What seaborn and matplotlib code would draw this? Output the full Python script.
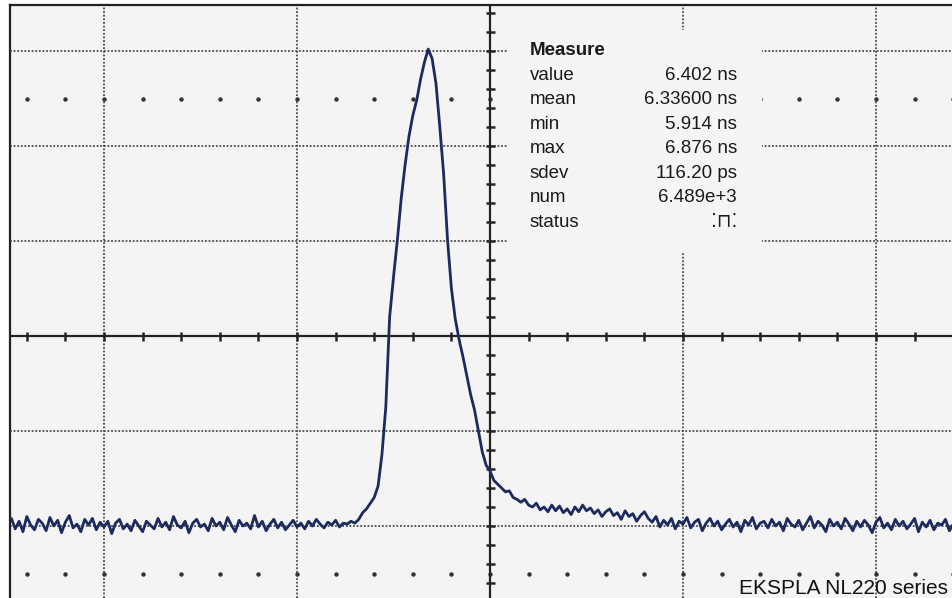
import numpy as np
import pandas as pd
import matplotlib
matplotlib.use("Agg")
import matplotlib.pyplot as plt
import seaborn as sns
from matplotlib.patches import Rectangle

# ---------------- data ----------------
# sample interval (ns) and first sample time; 20 ns per horizontal division
t_start = -49.6
t_step = 0.4

baseline_left = [
    -1.92, -2.03, -1.95, -2.06, -1.90, -1.99, -2.04, -1.93, -1.97, -2.05,
    -1.91, -2.00, -1.94, -2.07, -1.96, -1.89, -2.02, -1.98, -2.06, -1.93,
    -1.99, -1.92, -2.04, -1.96, -2.01, -1.95, -2.08, -1.97, -1.93, -2.03,
    -1.98, -2.05, -1.94, -2.00, -2.06, -1.95, -1.99, -2.03, -1.92, -2.01,
    -1.96, -2.04, -1.90, -1.99, -2.02, -1.95, -2.07, -1.97, -1.93, -2.01,
    -1.98, -2.05, -1.92, -2.00, -1.96, -2.04, -1.91, -1.99, -2.06, -1.94,
    -2.00, -1.97, -2.03, -1.89, -2.01, -1.95, -2.05, -1.98, -1.93, -2.02,
    -1.96, -2.04, -1.99, -1.94, -2.01, -1.97, -2.03, -1.95, -2.00, -1.93,
    -1.98, -2.02, -1.96, -1.99, -1.94, -2.01, -1.97,
]
pulse = [
    -1.98, -1.95, -1.97, -1.93, -1.86, -1.82, -1.76, -1.70, -1.58, -1.25,
    -0.75, 0.20, 0.62, 1.01, 1.45, 1.80, 2.10, 2.32, 2.48, 2.70,
    2.88, 3.02, 2.92, 2.66, 2.20, 1.70, 1.01, 0.50, 0.18, -0.04,
    -0.22, -0.42, -0.62, -0.78, -1.00, -1.22, -1.36, -1.42, -1.52, -1.56,
    -1.60, -1.64, -1.63, -1.70, -1.72, -1.75, -1.72, -1.78, -1.80, -1.76,
    -1.83, -1.80, -1.85, -1.78,
]
tail = [
    -1.84, -1.79, -1.86, -1.82, -1.88, -1.80, -1.85, -1.78, -1.84, -1.81,
    -1.87, -1.83, -1.90, -1.85, -1.82, -1.89, -1.86, -1.93, -1.84, -1.90,
    -1.87, -1.95, -1.89, -1.85, -1.92,
]
baseline_right = [
    -1.96, -1.90, -2.01, -1.94, -1.99, -1.92, -2.03, -1.95, -1.98, -1.91,
    -2.02, -1.96, -1.93, -2.05, -1.97, -1.92, -2.00, -1.95, -2.04, -1.98,
    -1.93, -2.01, -1.96, -2.06, -1.94, -1.99, -1.91, -2.03, -1.97, -1.95,
    -2.02, -1.93, -2.00, -1.96, -2.05, -1.92, -1.98, -2.01, -1.94, -2.04,
    -1.97, -1.90, -2.02, -1.95, -1.99, -2.06, -1.93, -2.00, -1.96, -2.03,
    -1.92, -1.98, -2.05, -1.95, -2.01, -1.94, -1.99, -2.07, -1.96, -1.91,
    -2.02, -1.97, -2.04, -1.93, -2.00, -1.95, -2.03, -1.98, -1.92, -2.06,
    -1.96, -2.01, -1.94, -2.04, -1.97, -1.99, -1.93, -2.05, -1.98,
]

measure_labels = ["value", "mean", "min", "max", "sdev", "num", "status"]
measure_values = ["6.402 ns", "6.33600 ns", "5.914 ns", "6.876 ns",
                  "116.20 ps", "6.489e+3", "\u205a\u2293\u205a"]
title_box = "Measure"
footer = "EKSPLA NL220 series"

# ---------------- figure ----------------
signal = baseline_left + pulse + tail + baseline_right
t = t_start + t_step * np.arange(len(signal))
df = pd.DataFrame({"t": t, "v": signal})

sns.set_theme(style="white")
plt.rcParams["font.family"] = ["Liberation Sans", "DejaVu Sans"]

W, H = 952, 598
fig = plt.figure(figsize=(W / 100, H / 100), dpi=100, facecolor="white")
ax = fig.add_axes([10 / W, 0, (W - 10) / W, (H - 5) / H])
ax.set_facecolor("#f4f4f4")

xdiv = 20.0  # ns per division
px_x = 193.0 / xdiv  # px per ns
px_y = 95.0          # px per vertical division
cx, cy = 490, 336
ax.set_xlim((10 - cx) / px_x, (W - cx) / px_x)
ax.set_ylim((cy - H) / px_y, (cy - 5) / px_y)

for s in ["right", "bottom"]:
    ax.spines[s].set_visible(False)
for s in ["left", "top"]:
    ax.spines[s].set_color("#222222")
    ax.spines[s].set_linewidth(1.6)
ax.set_xticks([])
ax.set_yticks([])

grid_kw = dict(color="#4a4a4a", linestyle=(0, (1, 1)), linewidth=1.3, zorder=1)
for gx in [-40, -20, 20, 40]:
    ax.axvline(gx, **grid_kw)
for gy in [-2, -1, 1, 2, 3]:
    ax.axhline(gy, **grid_kw)

# dot rows
dot_x = np.array([k * 4.0 for k in range(-12, 13)])
for yy in [2.5, -2.5]:
    ax.plot(dot_x, np.full_like(dot_x, yy), ls="none", marker="o",
            ms=2.2, color="#333333", zorder=1)

# measurement box hiding grid
ax.add_patch(Rectangle(((508 - cx) / px_x, (cy - 252) / px_y),
                       (762 - 508) / px_x, (252 - 30) / px_y,
                       facecolor="#f5f5f5", edgecolor="none", zorder=2))

# center axes with ticks
ax.axhline(0, color="#222222", lw=1.6, zorder=3)
ax.axvline(0, color="#222222", lw=1.6, zorder=3)
hx = np.array([k * 4.0 for k in range(-13, 13) if k != 0])
ax.vlines(hx, -4.5 / px_y, 4.5 / px_y, color="#222222", lw=1.8, zorder=3)
vy = np.array([k * 0.2 for k in range(-14, 18) if k != 0])
ax.hlines(vy, -4.5 / px_x, 4.5 / px_x, color="#222222", lw=1.8, zorder=3)

sns.lineplot(data=df, x="t", y="v", ax=ax, color="#1d2a5e", lw=2.0,
             estimator=None, sort=False, zorder=4)
ax.set_xlabel("")
ax.set_ylabel("")

# measure text
fs = 13.5
fig.text(530 / W, 1 - 50.5 / H, title_box, fontsize=fs, fontweight="bold",
         color="#1a1a1a", va="center", ha="left")
rows_y = [75.5, 100, 124.5, 149, 173.5, 198, 222.5]
for lab, val, yy in zip(measure_labels, measure_values, rows_y):
    fig.text(530 / W, 1 - yy / H, lab, fontsize=fs, color="#1a1a1a",
             va="center", ha="left")
    fig.text(737 / W, 1 - yy / H, val, fontsize=fs, color="#1a1a1a",
             va="center", ha="right")

fig.text(739 / W, 1 - 594 / H, footer, fontsize=15.0, color="#111111",
         va="baseline", ha="left")

fig.savefig("out.png", dpi=100, facecolor="white")
